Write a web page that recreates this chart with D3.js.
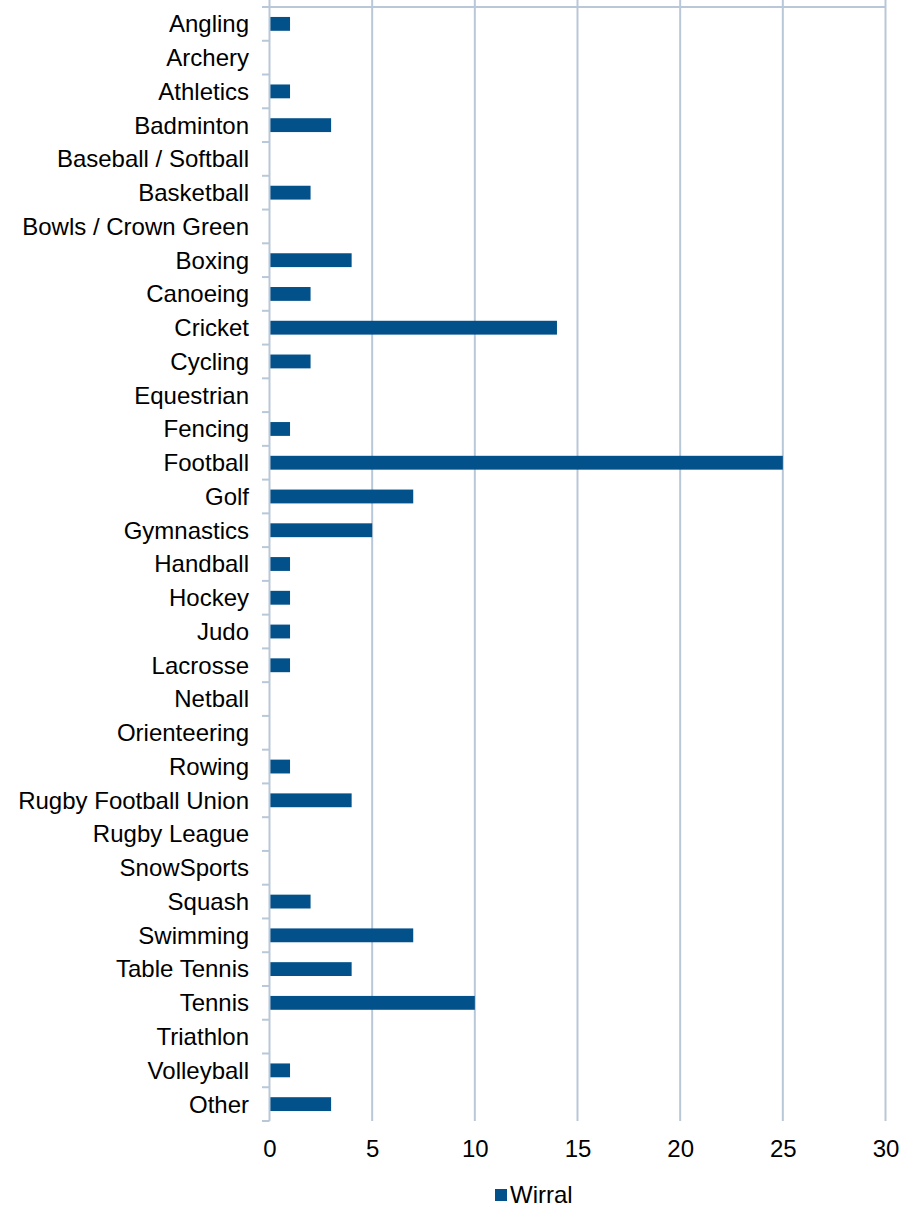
<!DOCTYPE html>
<html><head><meta charset="utf-8">
<script src="https://cdn.jsdelivr.net/npm/d3@7"></script>
<style>body{margin:0;background:#fff}svg{display:block}</style>
</head><body>
<script>
const categories = ["Angling","Archery","Athletics","Badminton","Baseball / Softball","Basketball","Bowls / Crown Green","Boxing","Canoeing","Cricket","Cycling","Equestrian","Fencing","Football","Golf","Gymnastics","Handball","Hockey","Judo","Lacrosse","Netball","Orienteering","Rowing","Rugby Football Union","Rugby League","SnowSports","Squash","Swimming","Table Tennis","Tennis","Triathlon","Volleyball","Other"];
const wirral = [1,0,1,3,0,2,0,4,2,14,2,0,1,25,7,5,1,1,1,1,0,0,1,4,0,0,2,7,4,10,0,1,3];
const xTicks = [0,5,10,15,20,25,30];
const seriesName = "Wirral";

const W = 917, H = 1208;
const font = "'Liberation Sans', Arial, sans-serif";
const svg = d3.select("body").append("svg").attr("width", W).attr("height", H);

const x = d3.scaleLinear().domain([0,30]).range([269.5, 885.5]);
const y = d3.scaleBand().domain(categories).range([7, 1121]).paddingInner(0.59).paddingOuter(0.295);
const yb = d3.scaleBand().domain(categories).range([7, 1121]);
const grid = "#b9c8d8";

svg.append("g").selectAll("line").data(xTicks.slice(1)).join("line")
  .attr("x1", d => x(d)).attr("x2", d => x(d)).attr("y1", 0).attr("y2", 1121)
  .attr("stroke", grid).attr("stroke-width", 2);

svg.append("line").attr("x1", 262).attr("x2", x(30)).attr("y1", 7).attr("y2", 7)
  .attr("stroke", grid).attr("stroke-width", 2);

svg.append("g").selectAll("rect").data(categories.map((c,i)=>({c, v: wirral[i]}))).join("rect")
  .attr("x", x(0)).attr("y", d => y(d.c))
  .attr("width", d => x(d.v) - x(0)).attr("height", y.bandwidth())
  .attr("fill", "#02518a");

svg.append("line").attr("x1", x(0)).attr("x2", x(0)).attr("y1", 0).attr("y2", 1121)
  .attr("stroke", grid).attr("stroke-width", 2);
svg.append("g").selectAll("line").data(categories.slice(1).concat(["__end"])).join("line")
  .attr("x1", 262).attr("x2", x(0))
  .attr("y1", d => d === "__end" ? 1121 : yb(d)).attr("y2", d => d === "__end" ? 1121 : yb(d))
  .attr("stroke", grid).attr("stroke-width", 2);

svg.append("g").selectAll("text").data(categories).join("text")
  .attr("x", 249).attr("y", d => yb(d) + yb.bandwidth()/2)
  .attr("dy", "0.35em").attr("text-anchor", "end")
  .attr("font-family", font).attr("font-size", 24).attr("fill", "#000")
  .text(d => d);

const xAxis = d3.axisBottom(x).tickValues(xTicks).tickSize(0).tickPadding(0);
const gx = svg.append("g").attr("transform", "translate(0,1140)").call(xAxis);
gx.select(".domain").remove();
gx.selectAll("text").attr("font-family", font).attr("font-size", 24).attr("fill", "#000").attr("dy", "0.71em");

const lg = svg.append("g");
lg.append("rect").attr("x", 495).attr("y", 1189).attr("width", 12).attr("height", 12).attr("fill", "#02518a");
lg.append("text").attr("x", 510).attr("y", 1195).attr("dy", "0.35em")
  .attr("font-family", font).attr("font-size", 24).attr("fill", "#000").text(seriesName);
</script>
</body></html>
